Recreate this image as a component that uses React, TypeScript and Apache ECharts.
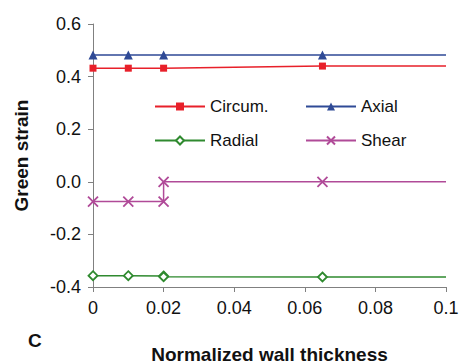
import React, { useEffect, useRef } from "react";
import * as echarts from "echarts";

const xTickLabels = ["0", "0.02", "0.04", "0.06", "0.08", "0.1"];
const yTickLabels = ["-0.4", "-0.2", "0.0", "0.2", "0.4", "0.6"];

const circumX = [0, 0.01, 0.02, 0.065, 0.1];
const circumY = [0.432, 0.432, 0.432, 0.44, 0.44];
const axialX = [0, 0.01, 0.02, 0.065, 0.1];
const axialY = [0.482, 0.482, 0.482, 0.482, 0.482];
const radialX = [0, 0.01, 0.02, 0.02, 0.065, 0.1];
const radialY = [-0.357, -0.357, -0.358, -0.361, -0.362, -0.362];
const shearX = [0, 0.01, 0.02, 0.02, 0.065, 0.1];
const shearY = [-0.075, -0.075, -0.075, 0, 0, 0];

const RED = "#E8202A";
const BLUE = "#2F4A96";
const GREEN = "#2F8A2F";
const PURPLE = "#B04A98";
const AXIS = "#808080";
const FONT = "Liberation Sans";

const xSymbol = "path://M0,0L10,10M10,0L0,10";

function buildData(xs: number[], ys: number[]) {
  return xs.map((x, i) =>
    i === xs.length - 1 ? { value: [x, ys[i]], symbol: "none" } : { value: [x, ys[i]] }
  );
}

export default function App() {
  const ref = useRef<HTMLDivElement>(null);
  useEffect(() => {
    if (!ref.current) return;
    const chart = echarts.init(ref.current, undefined, { renderer: "svg" });
    const legendBase = {
      itemWidth: 50,
      itemHeight: 10,
      textStyle: { fontFamily: FONT, fontSize: 17, color: "#111" },
      itemGap: 5,
    };
    chart.setOption({
      animation: false,
      backgroundColor: "#fff",
      grid: { left: 93, right: 13, top: 24, bottom: 77, outerBoundsMode: "none", containLabel: false },
      legend: [
        { ...legendBase, data: ["Circum."], left: 149, top: 93 },
        { ...legendBase, data: ["Axial"], left: 300, top: 93 },
        { ...legendBase, data: ["Radial"], left: 149, top: 127 },
        { ...legendBase, data: ["Shear"], left: 300, top: 127 },
      ],
      xAxis: {
        type: "value",
        min: 0,
        max: 0.1,
        interval: 0.02,
        name: "Normalized wall thickness",
        nameLocation: "middle",
        nameGap: 58,
        nameTextStyle: { fontFamily: FONT, fontSize: 19, fontWeight: "bold", color: "#111" },
        axisLine: { show: true, onZero: false, lineStyle: { color: AXIS, width: 1 } },
        axisTick: { show: true, length: 5, lineStyle: { color: AXIS } },
        splitLine: { show: false },
        axisLabel: {
          fontFamily: FONT,
          fontSize: 18,
          color: "#111",
          margin: 12,
          formatter: (v: number) => xTickLabels[Math.round(v / 0.02)],
        },
      },
      yAxis: {
        type: "value",
        min: -0.4,
        max: 0.6,
        interval: 0.2,
        name: "Green strain",
        nameLocation: "middle",
        nameGap: 62,
        nameTextStyle: { fontFamily: FONT, fontSize: 19, fontWeight: "bold", color: "#111" },
        axisLine: { show: true, lineStyle: { color: AXIS, width: 1 } },
        axisTick: { show: true, length: 5, lineStyle: { color: AXIS } },
        splitLine: { show: false },
        axisLabel: {
          fontFamily: FONT,
          fontSize: 18,
          color: "#111",
          margin: 12,
          formatter: (v: number) => yTickLabels[Math.round((v + 0.4) / 0.2)],
        },
      },
      graphic: [
        {
          type: "text",
          left: 28,
          top: 331,
          style: { text: "C", fontFamily: FONT, fontSize: 19, fontWeight: "bold", fill: "#111" },
        },
      ],
      series: [
        {
          name: "Circum.",
          type: "line",
          data: buildData(circumX, circumY),
          symbol: "rect",
          symbolSize: 7,
          lineStyle: { color: RED, width: 1.5 },
          itemStyle: { color: RED },
        },
        {
          name: "Axial",
          type: "line",
          data: buildData(axialX, axialY),
          symbol: "triangle",
          symbolSize: 9,
          lineStyle: { color: BLUE, width: 1.5 },
          itemStyle: { color: BLUE },
        },
        {
          name: "Radial",
          type: "line",
          data: buildData(radialX, radialY),
          symbol: "diamond",
          symbolSize: 9,
          lineStyle: { color: GREEN, width: 1.5 },
          itemStyle: { color: "#fff", borderColor: GREEN, borderWidth: 1.8 },
        },
        {
          name: "Shear",
          type: "line",
          data: buildData(shearX, shearY),
          symbol: xSymbol,
          symbolSize: 10,
          lineStyle: { color: PURPLE, width: 1.5 },
          itemStyle: { color: "none", borderColor: PURPLE, borderWidth: 1.8 },
        },
      ],
    });
    return () => chart.dispose();
  }, []);
  return <div ref={ref} style={{ width: 459, height: 364, position: "absolute", left: 0, top: 0 }} />;
}
